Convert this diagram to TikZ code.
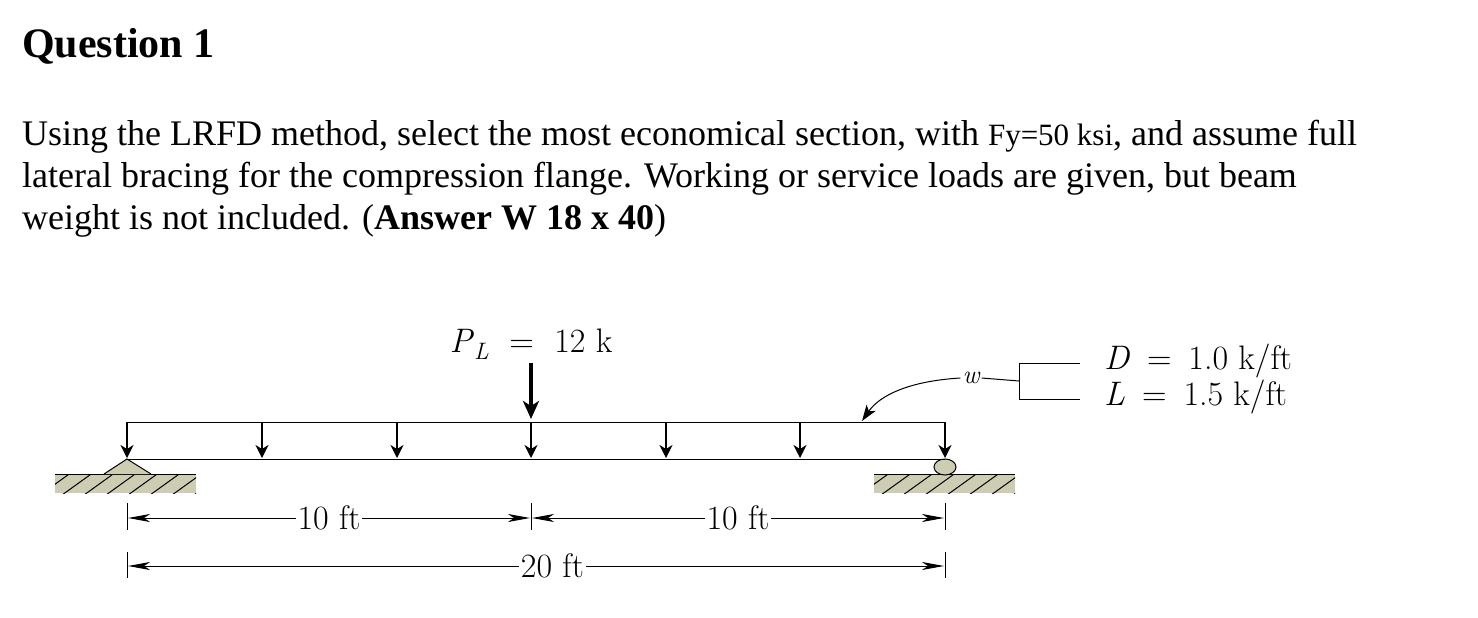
\documentclass[tikz,border=0pt]{standalone}
\usepackage{fontspec}
\newfontfamily\tms{Liberation Serif}
\usetikzlibrary{arrows.meta,patterns}
\begin{document}
\begin{tikzpicture}[x=1pt,y=-1pt,
  txt/.style={anchor=base west,inner sep=0pt,font=\tms\fontsize{36}{40}\selectfont},
  lbl/.style={inner sep=2pt,font=\fontsize{34}{38}\selectfont},
  ld/.style={-{Stealth[length=13pt,width=13pt,inset=4pt]},line width=1.3pt},
  dim/.style={{Stealth[length=22pt,width=8pt,inset=6pt]}-{Stealth[length=22pt,width=8pt,inset=6pt]},line width=1pt,shorten <=1pt,shorten >=1pt},
  gnd/.style={fill={rgb,255:red,205;green,205;blue,180},draw=none}]
\useasboundingbox (0,0) rectangle (1478,618);
\node[txt,font=\tms\bfseries\fontsize{42}{46}\selectfont] (q) at (22,58) {Question 1};
\node[txt] (l1) at (22,145) {Using the LRFD method, select the most economical section, with {\tms\fontsize{31}{34}\selectfont Fy=50 ksi}, and assume full};
\node[txt] (l2) at (22,187) {lateral bracing for the compression flange. Working or service loads are given, but beam};
\node[txt] (l3) at (22,229) {weight is not included. (\textbf{Answer W 18 x 40})};
% ground
\fill[gnd] (55,474) rectangle (196,493);
\fill[gnd] (874,474) rectangle (1015,493);
\begin{scope}
\clip (55,474) rectangle (196,493);
\foreach \i in {0,...,8} \draw[line width=1pt] (40+\i*22,495)--(72+\i*22,472);
\end{scope}
\begin{scope}
\clip (874,474) rectangle (1015,493);
\foreach \i in {0,...,8} \draw[line width=1pt] (859+\i*22,495)--(891+\i*22,472);
\end{scope}
\draw[line width=1pt] (55,474)--(196,474);
\draw[line width=1pt] (874,474)--(1015,474);
\draw[line width=1pt,fill={rgb,255:red,205;green,205;blue,180}] (104,474)--(127,459)--(151,474);
\draw[line width=1pt,fill={rgb,255:red,205;green,205;blue,180}] (945,467) circle[x radius=11pt,y radius=8pt];
% beam and load
\coordinate (bl) at (127,459); \coordinate (br) at (945,459);
\draw[line width=1pt] (bl)--(br);
\draw[line width=1pt] (127,422)--(945,422);
\foreach \x in {127,262,397,531,666,800,945} \draw[ld] (\x,422)--(\x,458);
\draw[-{Stealth[length=18pt,width=16pt,inset=5pt]},line width=3.5pt] (531,363)--(531,419);
\node[lbl,anchor=base] (pl) at (531,352) {\textit{P}\textsubscript{\textit{L}}\hspace{0.6em}=\hspace{0.6em}12 k};
% w
\node[lbl,font=\itshape\fontsize{26}{30}\selectfont] (w) at (971,378) {w};
\coordinate (bt) at (1019,363); \coordinate (bb) at (1019,399);
\draw[line width=1pt] (w.east)--(1019,381);
\draw[line width=1pt] (1080,363)--(bt)--(bb)--(1080,399);
\node[lbl,anchor=west] (D) at (1102,361) {\textit{D}\hspace{0.5em}=\hspace{0.5em}1.0 k/ft};
\node[lbl,anchor=west] (L) at (1102,397) {\textit{L}\hspace{0.5em}=\hspace{0.5em}1.5 k/ft};
\draw[-{Stealth[length=16pt,width=11pt,inset=4pt]},line width=1pt] (w.west) .. controls (910,381) and (880,395) .. (862,421);
% dimensions
\foreach \x in {127,531,945} \draw[line width=1pt] (\x,503)--(\x,530);
\foreach \x in {127,945} \draw[line width=1pt] (\x,552)--(\x,578);
\draw[dim] (127,518)--(531,518) node[midway,fill=white,lbl] (d1) {10 ft};
\draw[dim] (531,518)--(945,518) node[midway,fill=white,lbl] (d2) {10 ft};
\draw[dim] (127,566)--(945,566) node[pos=0.52,fill=white,lbl] (d3) {20 ft};
\end{tikzpicture}
\end{document}
